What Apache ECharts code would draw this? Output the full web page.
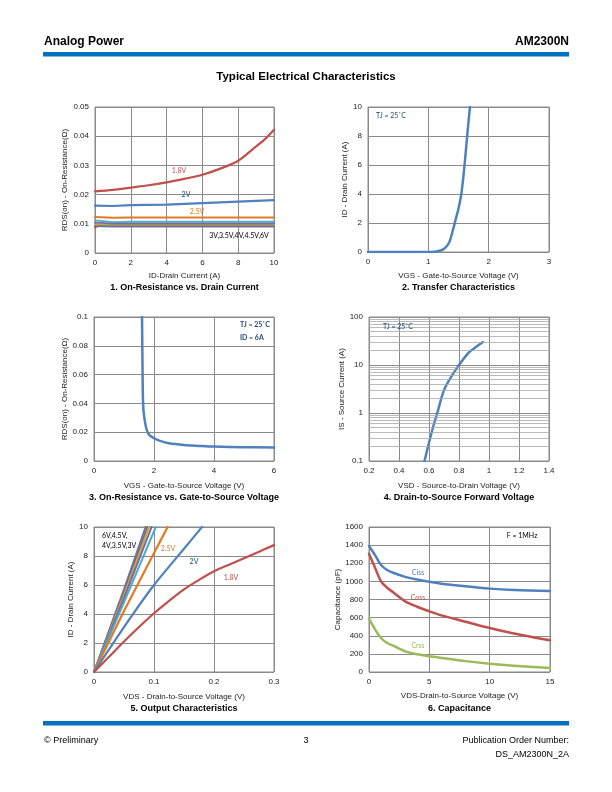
<!DOCTYPE html>
<html>
<head>
<meta charset="utf-8">
<script src="https://cdn.jsdelivr.net/npm/echarts@6/dist/echarts.min.js"></script>
<style>
html,body{margin:0;padding:0;background:#fff;}
#main{width:612px;height:792px;}
</style>
</head>
<body>
<div id="main"></div>
<script>
// ---------- DATA ----------
// Chart 1: RDS(on) vs ID
const rdsId18V = [[0,0.0211],[1,0.0216],[2,0.0224],[3,0.0232],[4,0.0242],[5,0.0254],[6,0.0268],[7,0.0289],[8,0.0316],[9,0.0365],[9.5,0.039],[10,0.0422]];
const rdsId2V  = [[0,0.0162],[1,0.0161],[2,0.0164],[4,0.0166],[6,0.0171],[8,0.0176],[10,0.0181]];
const rdsId25V = [[0,0.0123],[1,0.0121],[2,0.0122],[4,0.0122],[6,0.0122],[8,0.0122],[10,0.0122]];
const rdsId3V  = [[0,0.0112],[0.3,0.0110],[1,0.0106],[2,0.0107],[6,0.0107],[10,0.0107]];
const rdsId35V = [[0,0.0104],[0.3,0.0103],[1,0.0101],[4,0.0101],[10,0.0101]];
const rdsId4V  = [[0,0.0099],[0.3,0.0098],[1,0.0097],[4,0.0097],[10,0.0097]];
const rdsId45V = [[0,0.0088],[0.3,0.0096],[1,0.0094],[4,0.0094],[10,0.0094]];
const rdsId6V  = [[0,0.0092],[0.3,0.0091],[1,0.0090],[4,0.0090],[10,0.0090]];

// Chart 2: transfer characteristics
const vgsTransfer = [0,0.5,1.0,1.05,1.1,1.15,1.2,1.25,1.3,1.35,1.4,1.45,1.5,1.55,1.6,1.65,1.69];
const idTransfer  = [0,0,0,0.005,0.02,0.05,0.1,0.2,0.38,0.7,1.4,2.2,3.0,4.1,6.0,8.3,10];

// Chart 3: RDS(on) vs VGS
const vgsRds = [1.6,1.61,1.62,1.63,1.65,1.7,1.76,1.85,2.0,2.2,2.5,3,3.5,4,5,6];
const rdsVgs = [0.1,0.08,0.06,0.045,0.035,0.027,0.0215,0.018,0.0158,0.014,0.0123,0.0111,0.0105,0.0100,0.0096,0.0093];

// Chart 4: body diode forward voltage
const vsdDiode = [0.57,0.6,0.63,0.655,0.7,0.75,0.8,0.86,0.9,0.96];
const isDiode  = [0.1,0.24,0.55,1,3,5.8,10,17.5,22,30];
const logMinorTicks = [0.2,0.3,0.4,0.5,0.6,0.7,0.8,0.9,2,3,4,5,6,7,8,9,20,30,40,50,60,70,80,90];

// Chart 5: output characteristics
const out18V = [[0,0],[0.025,1.05],[0.05,2.1],[0.075,3.1],[0.1,4.05],[0.125,4.9],[0.15,5.7],[0.175,6.35],[0.2,6.95],[0.225,7.4],[0.25,7.85],[0.275,8.3],[0.3,8.75]];
const out2V   = [[0,0],[0.05,3.1],[0.1,6.0],[0.15,8.5],[0.18,10]];
const out25V  = [[0,0],[0.05,4.2],[0.1,8.2],[0.1227,10]];
const out3V   = [[0,0],[0.05,4.8],[0.103,10]];
const out35V  = [[0,0],[0.05,5.1],[0.096,10]];
const out4V   = [[0,0],[0.05,5.3],[0.092,10]];
const out45V  = [[0,0],[0.05,5.5],[0.089,10]];
const out6V   = [[0,0],[0.05,5.7],[0.086,10]];

// Chart 6: capacitance
const vdsCap = [0,0.5,1,1.5,2,3,4,5,6,8,10,12,15];
const ciss = [1390,1290,1180,1125,1095,1050,1020,995,975,945,920,905,893];
const coss = [1305,1150,1000,930,880,780,720,670,625,555,485,425,350];
const crss = [588,470,375,320,290,228,195,173,155,120,92,70,44];

// ---------- STYLE ----------
const FONT = '"Liberation Sans", Arial, sans-serif';
const NOTE = 'Lato, "Open Sans", sans-serif';
const GRIDC = '#8a8a8a';
const C = {blue:'#4F81BD', red:'#C0504D', green:'#9BBB59', purple:'#8064A2', teal:'#4BACC6', orange:'#E27A26', navy:'#1F497D'};

const grids = [
  {left:95, top:107, width:179, height:146},
  {left:368, top:107, width:181, height:145},
  {left:94, top:317, width:180, height:144},
  {left:369, top:317, width:180, height:144},
  {left:94, top:527, width:180, height:145},
  {left:369, top:527, width:181, height:145}
];
grids.forEach(g => { g.show = true; g.borderColor = GRIDC; g.borderWidth = 1; g.backgroundColor = '#fff'; });

const plainNum = v => String(v);

function xAx(i, min, max, interval, name) {
  return {gridIndex:i, type:'value', min, max, interval, name, nameLocation:'middle', nameGap:21,
    nameTextStyle:{fontFamily:FONT, fontSize:8, color:'#222'},
    axisLine:{show:false}, axisTick:{show:false},
    axisLabel:{fontFamily:FONT, fontSize:8, color:'#222', margin:6},
    splitLine:{show:true, lineStyle:{color:GRIDC, width:1}}};
}
function yAx(i, min, max, interval, name, gap) {
  return {gridIndex:i, type:'value', min, max, interval, name, nameLocation:'middle', nameGap:gap,
    nameTextStyle:{fontFamily:FONT, fontSize:8, color:'#222'},
    axisLine:{show:false}, axisTick:{show:false},
    axisLabel:{fontFamily:FONT, fontSize:8, color:'#222', margin:6},
    splitLine:{show:true, lineStyle:{color:GRIDC, width:1}}};
}
const xAxes = [
  xAx(0, 0, 10, 2, 'ID-Drain Current (A)'),
  xAx(1, 0, 3, 1, 'VGS - Gate-to-Source Voltage (V)'),
  xAx(2, 0, 6, 2, 'VGS - Gate-to-Source Voltage (V)'),
  xAx(3, 0.2, 1.4, 0.2, 'VSD - Source-to-Drain Voltage (V)'),
  xAx(4, 0, 0.3, 0.1, 'VDS - Drain-to-Source Voltage (V)'),
  xAx(5, 0, 15, 5, 'VDS-Drain-to-Source Voltage (V)')
];
xAxes[0].nameGap = 19; xAxes[1].nameGap = 20;
xAxes[2].nameGap = 21; xAxes[3].nameGap = 21; xAxes[4].nameGap = 21; xAxes[5].nameGap = 20;
const yAxes = [
  yAx(0, 0, 0.05, 0.01, 'RDS(on) - On-Resistance(Ω)', 26),
  yAx(1, 0, 10, 2, 'ID - Drain Current (A)', 19),
  yAx(2, 0, 0.1, 0.02, 'RDS(on) - On-Resistance(Ω)', 25),
  {gridIndex:3, type:'log', logBase:10, min:0.1, max:100, name:'IS - Source Current (A)', nameLocation:'middle', nameGap:23,
    nameTextStyle:{fontFamily:FONT, fontSize:8, color:'#222'},
    axisLine:{show:false}, axisTick:{show:false},
    axisLabel:{fontFamily:FONT, fontSize:8, color:'#222', margin:6},
    splitLine:{show:true, lineStyle:{color:GRIDC, width:1}}},
  yAx(4, 0, 10, 2, 'ID - Drain Current (A)', 19),
  yAx(5, 0, 1600, 200, 'Capacitance (pF)', 27)
];
yAxes[5].axisLabel.formatter = plainNum;

function ln(i, data, color, w, extra) {
  return Object.assign({type:'line', xAxisIndex:i, yAxisIndex:i, data, showSymbol:false, symbol:'none',
    lineStyle:{color, width:w, join:'round', cap:'round'}, itemStyle:{color}, silent:true, animation:false, z:3}, extra||{});
}
const zip = (a,b) => a.map((v,k)=>[v,b[k]]);

const series = [
  ln(0, rdsId6V, C.blue, 1.8), ln(0, rdsId45V, C.red, 1.8), ln(0, rdsId4V, C.green, 1.8),
  ln(0, rdsId35V, C.purple, 1.8), ln(0, rdsId3V, C.teal, 1.8),
  ln(0, rdsId25V, C.orange, 2), ln(0, rdsId2V, C.blue, 2.2), ln(0, rdsId18V, C.red, 2.2, {smooth:0.3}),
  ln(1, zip(vgsTransfer, idTransfer), C.blue, 2.5, {smooth:0.35}),
  ln(2, zip(vgsRds, rdsVgs), C.blue, 2.5, {smooth:0.3}),
  ln(3, zip(vsdDiode, isDiode), C.blue, 2.5, {smooth:0.3, z:4,
    markLine:{silent:true, symbol:'none', label:{show:false}, animation:false,
      lineStyle:{color:'#a8a8a8', width:0.8, type:'solid'},
      data: logMinorTicks.map(v => ({yAxis:v}))}}),
  ln(4, out6V, C.blue, 2), ln(4, out45V, C.red, 2), ln(4, out4V, C.green, 2),
  ln(4, out35V, C.purple, 2), ln(4, out3V, C.teal, 2),
  ln(4, out25V, C.orange, 2.2, {smooth:0.2}), ln(4, out2V, C.blue, 2.2, {smooth:0.2}),
  ln(4, out18V, C.red, 2.2, {smooth:0.4}),
  ln(5, zip(vdsCap, ciss), C.blue, 2.5, {smooth:0.3}),
  ln(5, zip(vdsCap, coss), C.red, 2.5, {smooth:0.3}),
  ln(5, zip(vdsCap, crss), C.green, 2.5, {smooth:0.3})
];

function txt(text, x, y, opts) {
  const o = opts || {};
  return {type:'text', silent:true, z:100, style:{text, x, y,
    font: (o.weight||'normal') + ' ' + (o.size||8) + 'px ' + (o.family||FONT),
    fill: o.color||'#000', textAlign:o.align||'left', textVerticalAlign:o.valign||'middle'}};
}
const titles = [
  ['1. On-Resistance vs. Drain Current', 184.5, 288],
  ['2. Transfer Characteristics', 458.5, 288],
  ['3. On-Resistance vs. Gate-to-Source Voltage', 184, 498],
  ['4. Drain-to-Source Forward Voltage', 459, 498],
  ['5. Output Characteristics', 184, 709],
  ['6. Capacitance', 459.5, 709]
];
const graphic = [
  txt('Analog Power', 44, 42, {size:12, weight:'bold', family:FONT}),
  txt('AM2300N', 569, 42, {size:12, weight:'bold', align:'right'}),
  {type:'rect', silent:true, shape:{x:43, y:52, width:526, height:4.5}, style:{fill:'#0070C0'}},
  txt('Typical Electrical Characteristics', 306, 77, {size:11.5, weight:'bold', align:'center'}),
  {type:'rect', silent:true, shape:{x:43, y:721, width:526, height:4.5}, style:{fill:'#0070C0'}},
  txt('© Preliminary', 44, 741, {size:9}),
  txt('3', 306, 741, {size:9, align:'center'}),
  txt('Publication Order Number:', 569, 741, {size:9, align:'right'}),
  txt('DS_AM2300N_2A', 569, 755, {size:9, align:'right'}),
  // annotations
  txt('1.8V', 179, 171, {size:7, color:C.red, family:NOTE, align:'center'}),
  txt('2V', 186, 195, {size:7, color:C.navy, family:NOTE, align:'center'}),
  txt('2.5V', 197, 212, {size:7, color:C.orange, family:NOTE, align:'center'}),
  txt('3V,3.5V,4V,4.5V,6V', 239, 236, {size:7, color:'#000', family:NOTE, align:'center'}),
  txt('TJ = 25˚C', 376, 116, {size:7, color:C.navy, family:NOTE}),
  txt('TJ = 25˚C', 240, 325, {size:7, color:C.navy, family:NOTE, weight:'bold'}),
  txt('ID = 6A', 240, 338, {size:7, color:C.navy, family:NOTE, weight:'bold'}),
  txt('TJ = 25˚C', 383, 327, {size:7, color:C.navy, family:NOTE}),
  txt('6V,4.5V,', 102, 536, {size:7, color:'#000', family:NOTE}),
  txt('4V,3.5V,3V', 102, 546, {size:7, color:'#000', family:NOTE}),
  txt('2.5V', 168, 549, {size:7, color:C.orange, family:NOTE, align:'center'}),
  txt('2V', 194, 562, {size:7, color:C.navy, family:NOTE, align:'center'}),
  txt('1.8V', 231, 578, {size:7, color:C.red, family:NOTE, align:'center'}),
  txt('Ciss', 418, 573, {size:7, color:C.blue, family:NOTE, align:'center'}),
  txt('Coss', 418, 598, {size:7, color:C.red, family:NOTE, align:'center'}),
  txt('Crss', 418, 646, {size:7, color:C.green, family:NOTE, align:'center'}),
  txt('F = 1MHz', 522, 536, {size:7, color:'#000', family:NOTE, align:'center'})
].concat(titles.map(t => txt(t[0], t[1], t[2], {size:9, weight:'bold', align:'center'})));

const chart = echarts.init(document.getElementById('main'), null, {renderer:'canvas'});
chart.setOption({
  animation:false,
  backgroundColor:'#fff',
  grid: grids,
  xAxis: xAxes,
  yAxis: yAxes,
  series,
  graphic
});
</script>
</body>
</html>
